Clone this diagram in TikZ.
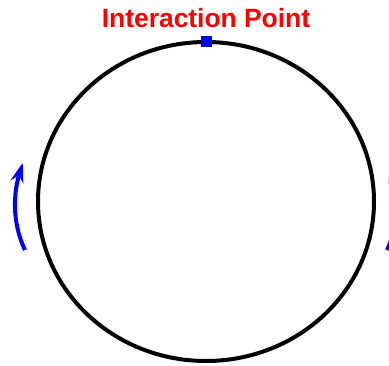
\documentclass[tikz,border=0pt]{standalone}
\usepackage{fontspec}
\setmainfont{Liberation Sans}
\usetikzlibrary{arrows.meta,bending}
\tikzset{
  ring/.style={draw=black, line width=4pt},
  beam/.style={draw=blue, line width=4pt, -{Stealth[length=20pt,width=13pt,inset=7pt,bend]}},
  ipmark/.style={fill=blue, draw=none, minimum size=11pt, inner sep=0pt, rectangle},
  titletext/.style={text=red, font=\bfseries\fontsize{26.4pt}{30pt}\selectfont, anchor=base, inner sep=0pt}
}
\begin{document}
\begin{tikzpicture}[x=1pt,y=-1pt]
  \useasboundingbox (0,0) rectangle (389,365);
  \clip (0,0) rectangle (389,365);
  \draw[ring] (206,201.5) ellipse [x radius=168pt, y radius=159.5pt];
  \node[ipmark] (ip) at (206,41.5) {};
  \node[titletext] (title) at (206,27) {Interaction Point};
  \coordinate (lt) at (25,250);
  \coordinate (lh) at (23,163);
  \coordinate (rt) at (387,250);
  \coordinate (rh) at (389,163);
  \draw[beam] (lt) .. controls (13,225) and (11,193) .. (lh);
  \draw[beam] (rt) .. controls (399,225) and (401,193) .. (rh);
\end{tikzpicture}
\end{document}
